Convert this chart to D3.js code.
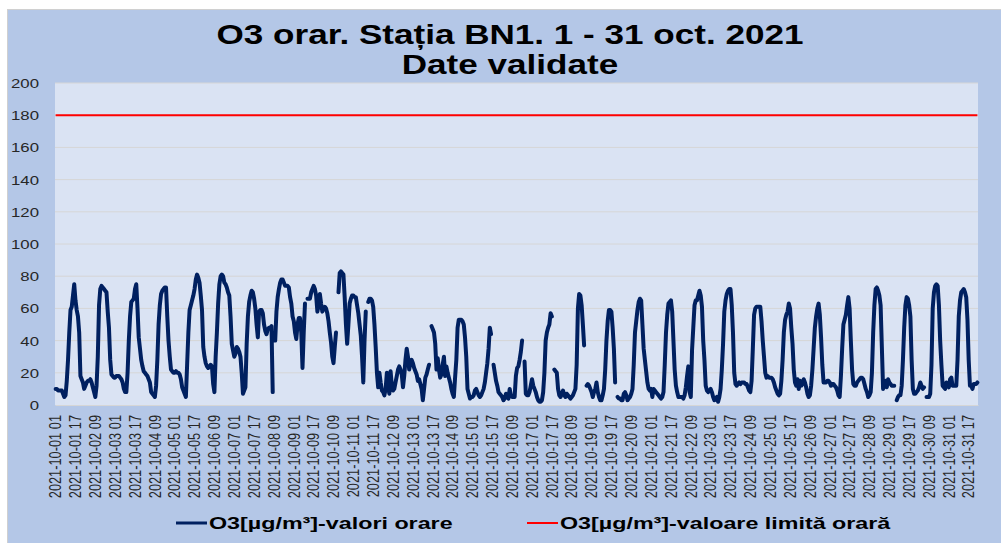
<!DOCTYPE html>
<html>
<head>
<meta charset="utf-8">
<script src="https://cdn.jsdelivr.net/npm/d3@7"></script>
<style>
  body { margin: 0; background: #fff; }
  text { font-family: "Liberation Sans", Arial, sans-serif; }
</style>
</head>
<body>
<div id="grafic"></div>
<script>
// --- date ---
const zile = ["2021-10-01","2021-10-02","2021-10-03","2021-10-04","2021-10-05","2021-10-06","2021-10-07","2021-10-08",
  "2021-10-09","2021-10-10","2021-10-11","2021-10-12","2021-10-13","2021-10-14","2021-10-15","2021-10-16",
  "2021-10-17","2021-10-18","2021-10-19","2021-10-20","2021-10-21","2021-10-22","2021-10-23","2021-10-24",
  "2021-10-25","2021-10-26","2021-10-27","2021-10-28","2021-10-29","2021-10-30","2021-10-31"];
const ore = ["01","02","03","04","05","06","07","08","09","10","11","12",
  "13","14","15","16","17","18","19","20","21","22","23","24"];

// O3 µg/m3, valori orare, un rand pe zi (null = lipsa)
const o3PeZi = [
  [10,10,9,9,9,9,7,5,6,15,28,45,59,61,68,75,65,59,55,45,18,16,14,10],
  [12,14,15,15,16,14,11,8,5,12,30,62,72,74,73,72,71,70,58,48,28,19,18,17],
  [17,18,18,18,17,16,14,10,8,8,20,40,55,64,65,66,72,75,60,42,35,28,24,21],
  [20,19,18,16,14,8,7,6,5,12,28,50,62,69,71,72,73,73,55,40,30,22,21,20],
  [20,21,20,20,19,16,11,9,7,5,25,45,59,62,65,68,72,78,81,79,76,68,59,36],
  [30,26,24,23,24,25,24,13,8,30,45,63,75,80,81,80,76,75,73,70,68,55,38,34],
  [30,32,36,35,33,30,20,7,9,11,38,55,64,68,71,70,66,60,50,42,58,59,59,57],
  [50,46,44,47,48,48,49,8,null,40,58,67,72,76,78,78,76,74,74,74,73,67,63,55],
  [52,45,41,50,54,54,45,23,45,63,null,66,66,66,70,72,74,72,68,58,62,69,63,58],
  [60,61,60,57,52,45,39,30,26,36,45,null,70,82,83,82,81,67,50,38,50,63,66,68],
  [68,67,67,62,57,50,43,30,14,40,58,null,64,66,66,65,61,50,36,20,11,20,14,9],
  [8,6,10,20,12,7,21,12,9,10,14,18,22,24,22,19,11,18,28,35,30,22,26,28],
  [26,23,21,19,15,16,13,10,3,10,17,19,22,25,null,49,47,45,38,22,29,22,17,19],
  [25,30,18,24,20,17,14,10,7,5,17,28,48,53,53,53,52,50,42,30,10,7,4,5],
  [5,6,9,10,8,6,5,6,8,10,14,20,26,35,48,44,null,25,20,15,12,8,7,6],
  [5,3,4,7,5,4,10,6,5,5,5,18,23,24,28,33,40,null,27,7,6,6,8,12],
  [16,12,10,8,5,3,2,2,3,8,20,40,45,48,50,57,55,null,22,21,20,10,6,5],
  [7,9,6,5,7,6,5,4,5,6,8,10,25,60,69,68,62,50,37,null,12,13,12,10],
  [8,5,8,10,14,8,5,3,3,6,10,22,40,52,59,59,58,48,35,14,null,5,4,4],
  [3,3,7,8,6,3,4,5,7,10,25,45,52,59,64,66,65,50,35,28,21,14,10,9],
  [10,5,10,9,8,7,6,5,4,5,8,25,45,56,63,64,65,58,40,22,12,8,5,5],
  [5,5,4,6,11,18,24,8,5,34,48,62,65,65,68,71,68,61,40,28,12,9,8,9],
  [10,8,5,3,4,5,2,5,10,22,38,58,65,69,71,72,72,62,45,20,13,12,13,14],
  [13,14,14,14,13,13,11,9,8,15,35,56,60,61,61,61,61,52,40,30,20,17,18,17],
  [17,17,16,14,11,9,7,6,7,15,28,45,53,56,58,63,60,48,38,22,14,12,16,10],
  [15,12,13,16,14,11,7,5,6,12,22,35,48,55,60,63,56,42,25,14,14,14,15,15],
  [14,12,13,13,12,11,9,6,5,18,35,50,53,56,62,67,60,40,22,13,12,12,14,15],
  [16,17,17,16,13,10,8,5,6,8,20,45,62,72,73,71,68,62,36,10,14,15,11,16],
  [14,13,12,12,12,null,3,5,6,6,12,28,48,62,67,66,62,55,28,10,7,7,8,9],
  [11,14,12,10,11,null,5,5,5,7,25,60,70,74,75,74,62,40,25,12,11,10,14,12],
  [11,16,17,12,12,12,12,28,55,65,70,71,72,70,67,53,28,12,12,10,13,13,13,14]
];

const valoareLimita = 180;
const yTicks = [0,20,40,60,80,100,120,140,160,180,200];
const pasEticheta = 16;
const titlu = ["O3 orar. Stația BN1. 1 - 31 oct. 2021", "Date validate"];
const serii = ["O3[µg/m³]-valori orare", "O3[µg/m³]-valoare limită orară"];

// --- tabel orar ---
const categorii = [];
const valori = [];
zile.forEach((z, zi) => ore.forEach((o, h) => {
  categorii.push(z + " " + o);
  valori.push({i: categorii.length - 1, v: o3PeZi[zi][h]});
}));

// --- setari ---
const W = 1001, H = 543;
const plot = {left: 55, right: 978, top: 83, bottom: 405};
const stretch = 1.29; // textul din imagine este latit orizontal

const svg = d3.select("#grafic").append("svg")
  .attr("width", W).attr("height", H);

svg.append("rect")
  .attr("x", 7.5).attr("y", 9.5).attr("width", 1000).attr("height", 540)
  .attr("fill", "#B4C7E7").attr("stroke", "#D0D0D0");

const x = d3.scaleBand().domain(d3.range(categorii.length)).range([plot.left, plot.right]);
const y = d3.scaleLinear().domain([0, 200]).range([plot.bottom, plot.top]);
const cx = i => x(i) + x.bandwidth() / 2;

svg.append("rect")
  .attr("x", plot.left).attr("y", plot.top)
  .attr("width", plot.right - plot.left).attr("height", plot.bottom - plot.top)
  .attr("fill", "#DAE3F3");

// grila
svg.append("g").selectAll("line")
  .data(yTicks.filter(t => t > 0))
  .join("line")
    .attr("x1", plot.left).attr("x2", plot.right)
    .attr("y1", d => y(d)).attr("y2", d => y(d))
    .attr("stroke", "#D6D6D6").attr("stroke-width", 1);

// axa Y
const asY = svg.append("g")
  .attr("transform", `translate(${plot.left},0)`)
  .call(d3.axisLeft(y).tickValues(yTicks).tickSize(0).tickPadding(16));
asY.select(".domain").remove();
asY.selectAll("text")
  .attr("font-size", 13).attr("fill", "#262626")
  .attr("x", null).attr("dy", "0.35em")
  .attr("transform", `translate(-16,0) scale(${stretch},1)`);

// axa X
const asX = svg.append("g")
  .attr("transform", `translate(0,${plot.bottom})`)
  .call(d3.axisBottom(x)
    .tickValues(d3.range(0, categorii.length, pasEticheta))
    .tickFormat(i => categorii[i])
    .tickSize(0));
asX.select(".domain").attr("stroke", "#D6D6D6");
asX.selectAll("text")
  .attr("font-size", 12.8).attr("fill", "#262626")
  .attr("text-anchor", "end")
  .attr("x", -10).attr("y", 0).attr("dy", "0.35em")
  .attr("transform", `scale(${stretch},1) rotate(-90)`);
asX.selectAll(".tick").attr("transform", d => `translate(${cx(d)},0)`);

// linii
const linie = d3.line().defined(d => d.v != null).x(d => cx(d.i)).y(d => y(d.v));

svg.append("path")
  .datum(valori.map(d => ({i: d.i, v: valoareLimita})))
  .attr("d", linie)
  .attr("fill", "none").attr("stroke", "#FF0000").attr("stroke-width", 2);

svg.append("path")
  .datum(valori)
  .attr("d", linie)
  .attr("fill", "none").attr("stroke", "#002060")
  .attr("stroke-width", 4).attr("stroke-linejoin", "round").attr("stroke-linecap", "round");

// titlu
svg.append("g").selectAll("text")
  .data(titlu)
  .join("text")
    .attr("text-anchor", "middle")
    .attr("font-size", 27).attr("font-weight", "bold").attr("fill", "#000")
    .attr("transform", (d, k) => `translate(510,${44 + k * 30}) scale(1.3,1)`)
    .text(d => d);

// legenda
const legenda = [
  {x: 176, culoare: "#002060", grosime: 3, text: serii[0]},
  {x: 527, culoare: "#FF0000", grosime: 2, text: serii[1]}
];
const itemi = svg.append("g").selectAll("g")
  .data(legenda)
  .join("g")
    .attr("transform", d => `translate(${d.x},523)`);
itemi.append("line")
  .attr("x1", 0).attr("x2", 31)
  .attr("stroke", d => d.culoare).attr("stroke-width", d => d.grosime);
itemi.append("text")
  .attr("font-size", 17).attr("font-weight", "bold").attr("fill", "#000")
  .attr("transform", "translate(33,6) scale(1.37,1)")
  .text(d => d.text);
</script>
</body>
</html>
